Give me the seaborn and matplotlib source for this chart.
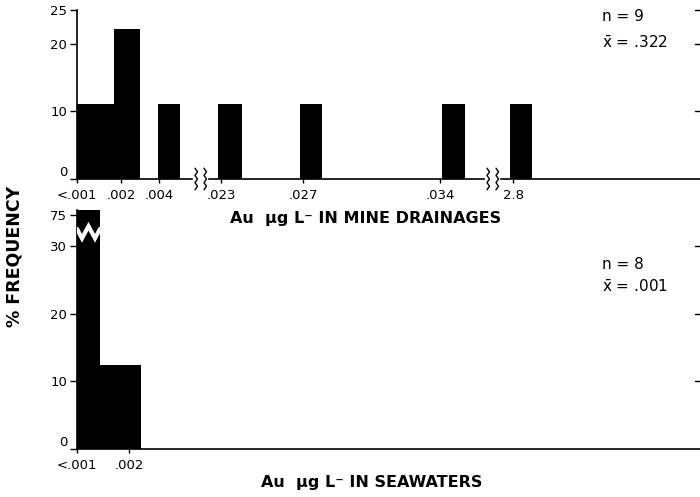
import numpy as np
import matplotlib
matplotlib.use("Agg")
import matplotlib.pyplot as plt
import seaborn as sns

sns.set_style("white")
plt.rcParams['font.family'] = ['DejaVu Sans']
plt.rcParams['text.color'] = 'black'
plt.rcParams['axes.labelcolor'] = 'black'
plt.rcParams['xtick.color'] = 'black'
plt.rcParams['ytick.color'] = 'black'

# ---- data ----
mine_labels = ["<.001", ".002", ".004", ".023", ".027", ".034", "2.8"]
mine_freq = [11.1, 22.2, 11.1, 11.1, 11.1, 11.1, 11.1]
sea_labels = ["<.001", ".002"]
sea_freq = [75.0, 12.5]
mine_stats = ["n = 9", r"$\bar{\mathrm{x}}$ = .322"]
sea_stats = ["n = 8", r"$\bar{\mathrm{x}}$ = .001"]

# ---- layout (pixel-like x units from left spine) ----
mine_edges = [(0, 37), (37, 63), (81, 103), (141, 165), (223, 245), (365, 388), (433, 455)]
mine_label_x = [0, 44, 82, 144, 226, 363, 436]
sea_edges = [(0, 23), (23, 64)]
sea_label_x = [0, 52]

W, H = 700, 497
fig = plt.figure(figsize=(7.0, 4.97), dpi=100)
ax1 = fig.add_axes([77 / W, 1 - 179 / H, 1 - 77 / W, (179 - 10) / H])
ax2 = fig.add_axes([77 / W, 1 - 449 / H, 1 - 77 / W, (449 - 210) / H])


def draw(ax, edges, freqs):
    bins = []
    for l, r in edges:
        if not bins or bins[-1] != l:
            bins.append(l)
        bins.append(r)
    mids = [(l + r) / 2 for l, r in edges]
    sns.histplot(x=mids, weights=freqs, bins=bins, ax=ax, color="black",
                 edgecolor="black", linewidth=0, alpha=1, stat="count")


draw(ax1, mine_edges, mine_freq)
draw(ax2, sea_edges, sea_freq)

for ax in (ax1, ax2):
    ax.set_xlim(0, 623)
    ax.set_xlabel("")
    ax.set_ylabel("")
    for s in ("top", "right"):
        ax.spines[s].set_visible(False)
    ax.spines["left"].set_linewidth(1.2)
    ax.spines["bottom"].set_linewidth(1.2)
    ax.spines["left"].set_color("black")
    ax.spines["bottom"].set_color("black")
    ax.tick_params(axis="y", direction="out", length=5, width=1, left=True,
                   labelsize=9.5, pad=2, colors="black")
    ax.tick_params(axis="x", direction="out", length=3, width=1, bottom=True,
                   labelsize=9.5, pad=4, colors="black")

ax1.set_ylim(0, 25)
ax1.set_yticks([0, 10, 20, 25])
ax1.set_yticklabels(["0", "10", "20", "25"])
ax1.set_xticks(mine_label_x)
ax1.set_xticklabels(mine_labels)

ax2.set_ylim(0, 35.4)
ax2.set_yticks([0, 10, 20, 30, 34.6])
ax2.set_yticklabels(["0", "10", "20", "30", "75"])
ax2.set_xticks(sea_label_x)
ax2.set_xticklabels(sea_labels)

# nudge the zero labels up so they clear the x tick labels
for ax in (ax1, ax2):
    ax.get_yticklabels()[0].set_verticalalignment("bottom")

# right-side tick marks
for ax, ticks in ((ax1, [10, 20, 25]), (ax2, [10, 20, 30])):
    for t in ticks:
        ax.plot([0.992, 1.0], [t, t], transform=ax.get_yaxis_transform(),
                color="black", lw=1, clip_on=False)

# axis breaks on top x axis
def xbreak(ax, x0):
    ys = np.linspace(-1.6, 1.6, 7)
    xs = np.array([0, 2.5, 0, 2.5, 0, 2.5, 0])
    ax.fill_between([x0 - 2, x0 + 12], -0.3, 0.3, color="white", zorder=3, clip_on=False)
    for dx in (0, 9):
        ax.plot(x0 + dx + xs, ys, color="black", lw=1, zorder=4, clip_on=False)

xbreak(ax1, 118)
xbreak(ax1, 410)

# break mark in tall seawater bar
zx = np.array([0, 5, 11.5, 18, 23])
zy = np.array([32.6, 31.2, 33.0, 31.2, 32.6])
ax2.plot(zx, zy, color="white", lw=3, zorder=5, solid_joinstyle="miter")

# stats text
ax1.text(525, 24.0, mine_stats[0], fontsize=11, va="center")
ax1.text(525, 20.2, mine_stats[1], fontsize=11, va="center")
ax2.text(525, 27.4, sea_stats[0], fontsize=11, va="center")
ax2.text(525, 24.0, sea_stats[1], fontsize=11, va="center")

fig.text(366 / W, 1 - 219 / H, "Au  μg L\u207b IN MINE DRAINAGES", ha="center",
         va="center", fontsize=11.5, fontweight="bold")
fig.text(372 / W, 1 - 482 / H, "Au  μg L\u207b IN SEAWATERS", ha="center",
         va="center", fontsize=11.5, fontweight="bold")
fig.text(15 / W, 1 - 256 / H, "% FREQUENCY", rotation=90, ha="center",
         va="center", fontsize=12.5, fontweight="bold")

fig.savefig("out.png", dpi=100)
